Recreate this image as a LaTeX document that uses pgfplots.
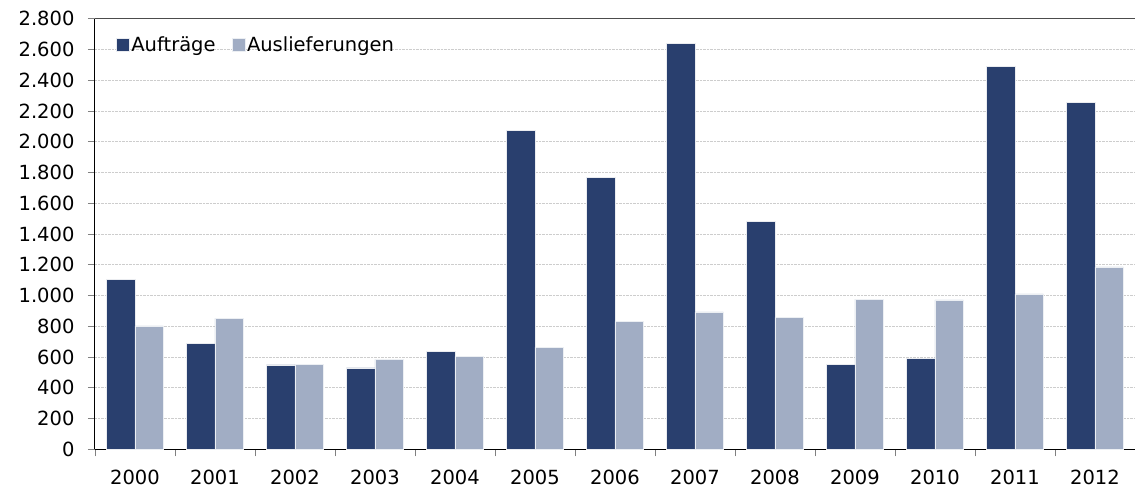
\documentclass[border=0pt]{standalone}
\usepackage{fontspec}
\setmainfont{DejaVu Sans}
\usepackage{pgfplots}
\pgfplotsset{compat=1.18}

\definecolor{auftr}{RGB}{41,63,110}
\definecolor{ausl}{RGB}{161,173,196}
\definecolor{gridc}{RGB}{205,205,205}
\definecolor{tickc}{RGB}{128,128,128}

\begin{document}
\begin{tikzpicture}
\useasboundingbox (-95pt,-41.7pt) rectangle (1040pt,449.3pt);
\begin{axis}[
  at={(0,0)}, anchor=south west,
  scale only axis,
  width=1040pt, height=430.6pt,
  ybar=0pt, bar width=28.5pt,
  xmin=-0.5, xmax=12.5,
  ymin=0, ymax=2800,
  ytick distance=200,
  xtick={0,...,12},
  xticklabels={2000,2001,2002,2003,2004,2005,2006,2007,2008,2009,2010,2011,2012},
  minor xtick={-0.5,0.5,...,12.5},
  major x tick style={draw=none},
  minor x tick style={tickc, line width=0.8pt},
  y tick style={tickc, line width=0.8pt},
  tick align=outside,
  major tick length=7pt, minor tick length=7pt,
  axis x line*=bottom, axis y line*=left,
  axis line style={black, line width=1pt, -},
  ymajorgrids,
  grid style={gridc, densely dotted, line width=0.6pt},
  font=\fontsize{19.5}{22}\selectfont,
  /pgf/number format/.cd, 1000 sep={.}, assume math mode=true,
  /pgfplots/.cd,
  yticklabel style={xshift=-10pt},
  xticklabel style={yshift=-10pt},
  legend style={draw=none, fill=none, at={(0.02,0.9635)}, anchor=north west,
    legend columns=2, inner sep=0pt,
    nodes={inner xsep=2pt},
    /tikz/every even column/.append style={column sep=14pt},
    font=\fontsize{19.5}{22}\selectfont},
  legend image code/.code={\fill[#1] (0pt,-6.5pt) rectangle (13pt,6.5pt);},
  clip=false,
]
\addplot[fill=auftr, draw=white!90!auftr, line width=0.4pt] coordinates {
  (0,1105) (1,689) (2,549) (3,529) (4,639) (5,2074) (6,1768)
  (7,2639) (8,1482) (9,553) (10,592) (11,2488) (12,2254)};
\addlegendentry{Aufträge}
\addplot[fill=ausl, draw=white!80!ausl, line width=0.4pt] coordinates {
  (0,802) (1,852) (2,552) (3,585) (4,605) (5,665) (6,832)
  (7,893) (8,858) (9,977) (10,971) (11,1010) (12,1187)};
\addlegendentry{Auslieferungen}
\draw[black!70, line width=1pt] (rel axis cs:0,1) -- (rel axis cs:1,1);
\end{axis}
\end{tikzpicture}
\end{document}
